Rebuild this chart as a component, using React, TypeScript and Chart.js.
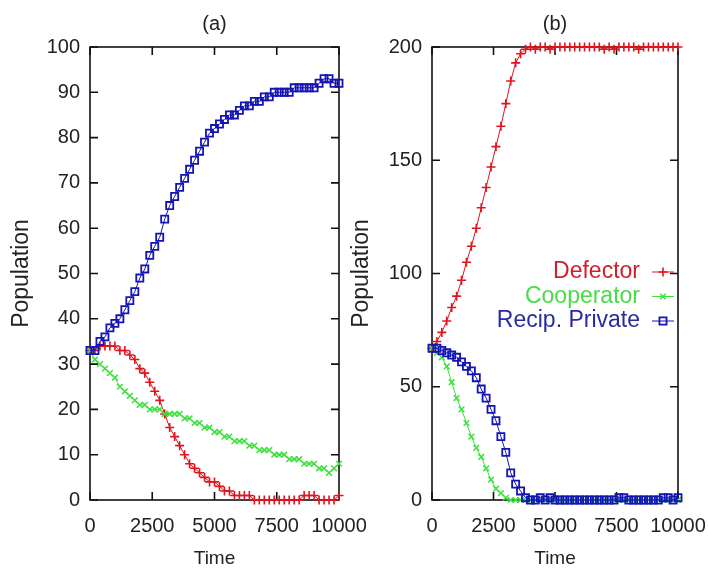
import { useEffect, useRef } from "react";
import { Chart, registerables } from "chart.js";
import { drawPoint } from "chart.js/helpers";

Chart.register(...registerables);

const times = [
  0, 200, 400, 600, 800, 1000, 1200, 1400, 1600, 1800,
  2000, 2200, 2400, 2600, 2800, 3000, 3200, 3400, 3600, 3800,
  4000, 4200, 4400, 4600, 4800, 5000, 5200, 5400, 5600, 5800,
  6000, 6200, 6400, 6600, 6800, 7000, 7200, 7400, 7600, 7800,
  8000, 8200, 8400, 8600, 8800, 9000, 9200, 9400, 9600, 9800,
  10000,
];

const seriesLabels = ["Defector", "Cooperator", "Recip. Private"];
const panelTitles = ["(a)", "(b)"];
const xTickValues = [0, 2500, 5000, 7500, 10000];

const defectorA = [
  33, 33, 34, 34, 34, 34, 33, 33, 32, 31,
  29, 28, 26, 24, 22, 19, 16, 14, 12, 10,
  8, 7, 6, 5, 4, 4, 3, 2, 2, 1,
  1, 1, 1, 0, 0, 0, 0, 0, 0, 0,
  0, 0, 0, 1, 1, 1, 0, 0, 0, 0,
  1,
];
const cooperatorA = [
  33, 31, 30, 29, 28, 27, 25, 24, 23, 22,
  21, 21, 20, 20, 20, 19, 19, 19, 19, 18,
  18, 17, 17, 16, 16, 15, 15, 14, 14, 13,
  13, 13, 12, 12, 11, 11, 11, 10, 10, 10,
  9, 9, 9, 8, 8, 8, 7, 7, 6, 7,
  8,
];
const recipA = [
  33, 33, 35, 36, 38, 39, 40, 42, 44, 46,
  49, 51, 54, 56, 58, 62, 65, 67, 69, 71,
  73, 75, 77, 79, 81, 82, 83, 84, 85, 85,
  86, 87, 87, 88, 88, 89, 89, 90, 90, 90,
  90, 91, 91, 91, 91, 91, 92, 93, 93, 92,
  92,
];

const defectorB = [
  67, 70, 74, 79, 85, 90, 97, 105, 112, 120,
  129, 138, 147, 156, 165, 175, 185, 193, 197, 199,
  200, 199, 200, 200, 199, 200, 200, 200, 200, 200,
  200, 200, 200, 200, 200, 199, 200, 199, 200, 200,
  200, 200, 199, 200, 200, 200, 200, 200, 200, 200,
  200,
];
const cooperatorB = [
  67, 65, 63, 59, 52, 45, 40, 34, 28, 23,
  19, 14, 9, 5, 3, 1, 0, 0, 0, 0,
  0, 0, 0, 0, 0, 0, 0, 0, 0, 0,
  0, 0, 0, 0, 0, 0, 0, 0, 0, 0,
  0, 0, 0, 0, 0, 0, 0, 0, 0, 0,
  0,
];
const recipB = [
  67, 67, 66, 65, 64, 63, 61, 59, 57, 54,
  49, 45, 40, 35, 28, 21, 12, 7, 4, 1,
  0, 0, 1, 0, 1, 0, 0, 0, 0, 0,
  0, 0, 0, 0, 0, 0, 0, 0, 1, 1,
  0, 0, 0, 0, 0, 0, 0, 1, 1, 0,
  1,
];

const RED = "#e0141e";
const GREEN = "#3ee03e";
const BLUE = "#1414b4";
const LEGEND_TEXT = ["#d0202c", "#48dc48", "#2a2a9e"];
const FONT = "'Liberation Sans', Arial, sans-serif";

const frameTicks = {
  id: "frameTicks",
  beforeDatasetsDraw(chart: any) {
    const { ctx, chartArea, scales } = chart;
    const { left, right, top, bottom } = chartArea;
    ctx.save();
    ctx.strokeStyle = "#111";
    ctx.lineWidth = 1.6;
    ctx.strokeRect(left, top, right - left, bottom - top);
    const len = 8;
    ctx.beginPath();
    scales.x.ticks.forEach((t: any) => {
      const px = scales.x.getPixelForValue(t.value);
      ctx.moveTo(px, bottom);
      ctx.lineTo(px, bottom - len);
      ctx.moveTo(px, top);
      ctx.lineTo(px, top + len);
    });
    scales.y.ticks.forEach((t: any) => {
      const py = scales.y.getPixelForValue(t.value);
      ctx.moveTo(left, py);
      ctx.lineTo(left + len, py);
      ctx.moveTo(right, py);
      ctx.lineTo(right - len, py);
    });
    ctx.stroke();
    ctx.restore();
  },
};

const keyLegend = {
  id: "keyLegend",
  afterDatasetsDraw(chart: any, _args: any, opts: any) {
    if (!opts || !opts.show) return;
    const { ctx, chartArea } = chart;
    ctx.save();
    ctx.font = `23px ${FONT}`;
    ctx.textAlign = "right";
    ctx.textBaseline = "middle";
    chart.data.datasets.forEach((ds: any, i: number) => {
      const yy = chartArea.top + opts.top + i * opts.spacing;
      ctx.fillStyle = LEGEND_TEXT[i];
      ctx.fillText(ds.label, chartArea.right - opts.textRight, yy);
      const mx = chartArea.right - opts.markerRight;
      ctx.strokeStyle = ds.borderColor;
      ctx.lineWidth = 1;
      ctx.beginPath();
      ctx.moveTo(mx - 11, yy);
      ctx.lineTo(mx + 11, yy);
      ctx.stroke();
      ctx.lineWidth = ds.pointBorderWidth;
      ctx.fillStyle = "transparent";
      drawPoint(ctx, { pointStyle: ds.pointStyle, radius: ds.pointRadius, rotation: 0, borderWidth: ds.pointBorderWidth }, mx, yy);
    });
    ctx.restore();
  },
};

function makeDatasets(def: number[], coop: number[], rec: number[]) {
  const pts = (arr: number[]) => times.map((t, i) => ({ x: t, y: arr[i] }));
  return [
    {
      label: seriesLabels[0],
      data: pts(def),
      borderColor: RED,
      backgroundColor: "transparent",
      pointStyle: "cross",
      pointRadius: 4.5,
      pointBorderWidth: 1.6,
      pointBorderColor: RED,
      borderWidth: 1,
      order: 2,
      clip: false,
    },
    {
      label: seriesLabels[1],
      data: pts(coop),
      borderColor: GREEN,
      backgroundColor: "transparent",
      pointStyle: "crossRot",
      pointRadius: 4,
      pointBorderWidth: 1.5,
      pointBorderColor: GREEN,
      borderWidth: 1,
      order: 1,
      clip: false,
    },
    {
      label: seriesLabels[2],
      data: pts(rec),
      borderColor: BLUE,
      backgroundColor: "transparent",
      pointStyle: "rect",
      pointRadius: 5,
      pointBorderWidth: 1.8,
      pointBorderColor: BLUE,
      borderWidth: 1,
      order: 0,
      clip: false,
    },
  ];
}

function makeConfig(opts: {
  title: string;
  datasets: any[];
  yMax: number;
  yStep: number;
  yWidth: number;
  yTitlePad: number;
  rightPad: number;
  legend: boolean;
}): any {
  return {
    type: "line",
    data: { datasets: opts.datasets },
    plugins: [frameTicks, keyLegend],
    options: {
      animation: false,
      responsive: false,
      maintainAspectRatio: false,
      events: [],
      layout: { padding: { left: 0, right: opts.rightPad, top: 0, bottom: 0 } },
      elements: { line: { tension: 0 } },
      plugins: {
        legend: { display: false },
        tooltip: { enabled: false },
        title: {
          display: true,
          text: opts.title,
          fullSize: false,
          color: "#222",
          font: { family: FONT, size: 20, weight: "normal" },
          padding: { top: 12, bottom: 11 },
        },
        keyLegend: { show: opts.legend, top: 225, spacing: 24.5, textRight: 38, markerRight: 15 },
      },
      scales: {
        x: {
          type: "linear",
          min: 0,
          max: 10000,
          afterBuildTicks: (scale: any) => {
            scale.ticks = xTickValues.map((v) => ({ value: v }));
          },
          afterFit: (scale: any) => {
            scale.height = 72;
            scale.paddingLeft = 0;
            scale.paddingRight = 0;
          },
          grid: { display: false, drawTicks: false },
          border: { display: false },
          ticks: {
            color: "#222",
            padding: 14,
            maxRotation: 0,
            autoSkip: false,
            font: { family: FONT, size: 20 },
            callback: (v: any) => String(v),
          },
          title: {
            display: true,
            text: "Time",
            color: "#222",
            font: { family: FONT, size: 19 },
            padding: { top: 0, bottom: 2 },
          },
        },
        y: {
          type: "linear",
          min: 0,
          max: opts.yMax,
          afterFit: (scale: any) => {
            scale.width = opts.yWidth;
          },
          grid: { display: false, drawTicks: false },
          border: { display: false },
          ticks: {
            color: "#222",
            padding: 10,
            stepSize: opts.yStep,
            autoSkip: false,
            font: { family: FONT, size: 20 },
          },
          title: {
            display: true,
            text: "Population",
            color: "#222",
            font: { family: FONT, size: 23 },
            padding: { top: opts.yTitlePad, bottom: 0 },
          },
        },
      },
    },
  };
}

export default function App() {
  const refA = useRef<HTMLCanvasElement>(null);
  const refB = useRef<HTMLCanvasElement>(null);

  useEffect(() => {
    const a = new Chart(
      refA.current!,
      makeConfig({
        title: panelTitles[0],
        datasets: makeDatasets(defectorA, cooperatorA, recipA),
        yMax: 100,
        yStep: 10,
        yWidth: 90,
        yTitlePad: 8,
        rightPad: 35,
        legend: false,
      })
    );
    const b = new Chart(
      refB.current!,
      makeConfig({
        title: panelTitles[1],
        datasets: makeDatasets(defectorB, cooperatorB, recipB),
        yMax: 200,
        yStep: 50,
        yWidth: 92,
        yTitlePad: 8,
        rightPad: 30,
        legend: true,
      })
    );
    return () => {
      a.destroy();
      b.destroy();
    };
  }, []);

  return (
    <div style={{ position: "fixed", left: 0, top: 0, width: 708, height: 572, background: "#fff" }}>
      <canvas ref={refA} width={374} height={572} style={{ position: "absolute", left: 0, top: 0, width: 374, height: 572 }} />
      <canvas ref={refB} width={368} height={572} style={{ position: "absolute", left: 340, top: 0, width: 368, height: 572 }} />
    </div>
  );
}
